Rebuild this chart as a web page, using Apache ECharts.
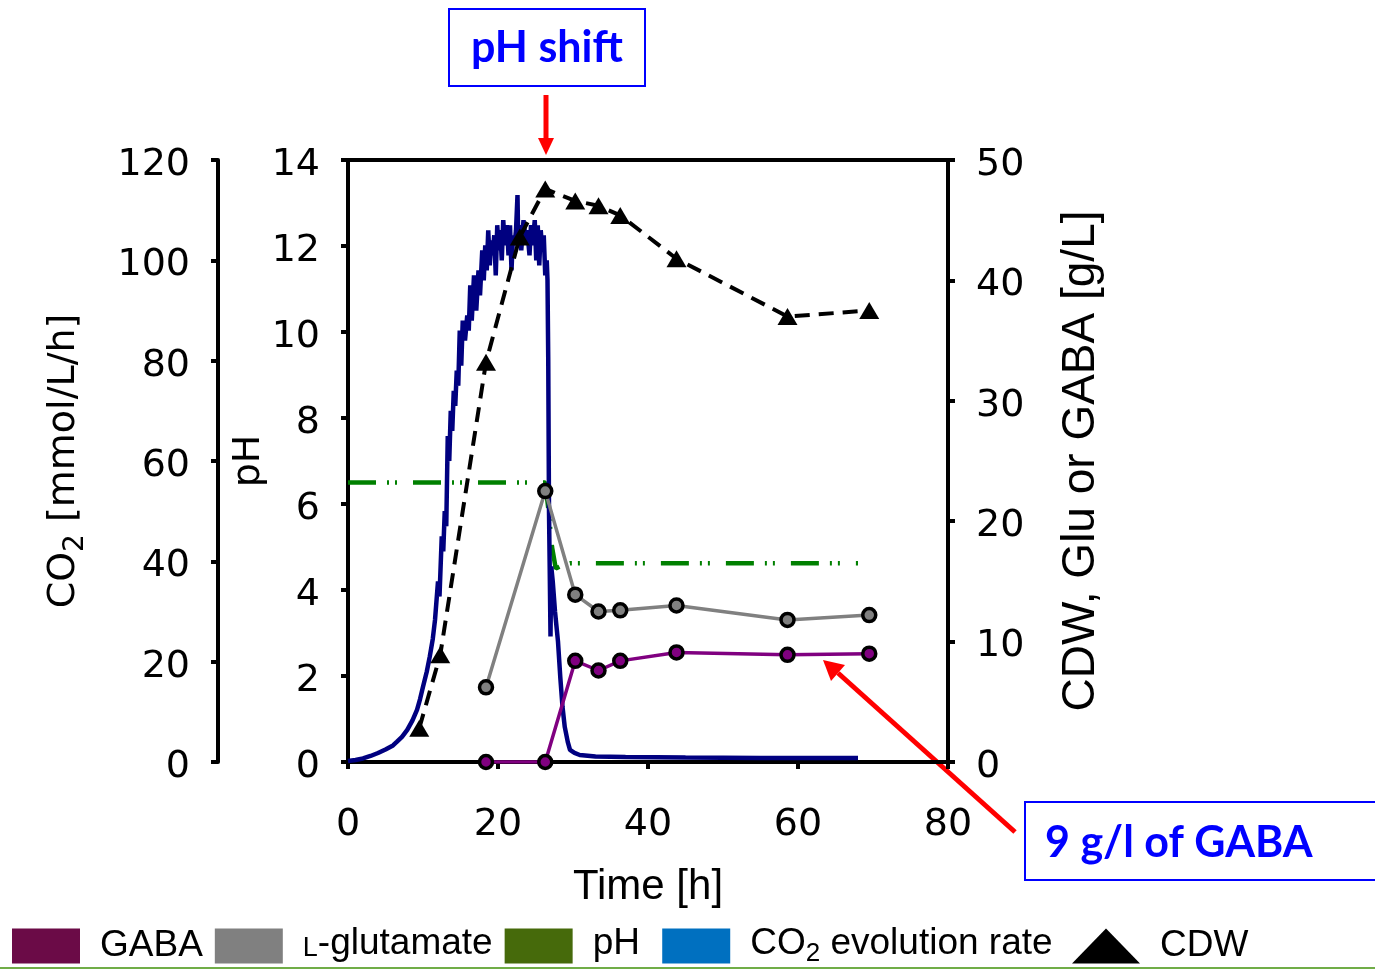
<!DOCTYPE html>
<html>
<head>
<meta charset="utf-8">
<script src="https://cdn.jsdelivr.net/npm/echarts/dist/echarts.min.js"></script>
<style>
  html, body { margin: 0; padding: 0; background: #fff; }
  #main { width: 1375px; height: 971px; }
</style>
</head>
<body>
<div id="main"></div>
<script>
// sampling times [h] and measured values
var sampleTime = [18.4, 26.3, 30.3, 33.4, 36.3, 43.8, 58.6, 69.5];
var gabaValues = [0, 0, 8.4, 7.6, 8.4, 9.1, 8.9, 9.0];
var gluValues = [6.2, 22.5, 13.9, 12.5, 12.6, 13.0, 11.8, 12.2];

var cdwTime = [9.5, 12.3, 18.4, 22.9, 26.3, 30.3, 33.4, 36.3, 43.8, 58.6, 69.5];
var cdwValues = [2.8, 8.9, 33.2, 43.6, 47.6, 46.6, 46.2, 45.4, 41.8, 37.0, 37.5];

// online pH
var phTime = [0, 26.3, 26.7, 27.2, 27.7, 28.3, 29.6, 68];
var phValues = [6.5, 6.5, 5.9, 5.0, 4.5, 4.55, 4.62, 4.62];

// CO2 evolution rate
var co2Time = [0, 1, 2, 3, 4, 5, 6, 6.5, 7.2, 7.9, 8.6, 9.2, 9.6, 10, 10.5, 10.9, 11.3, 11.6, 12, 12.2,
  12.5, 12.7, 12.9, 13.1, 13.2, 13.3, 13.5, 13.7, 13.9, 14.1, 14.3, 14.5, 14.7, 14.9, 15.1, 15.3, 15.6, 15.9, 16.1, 16.3,
  16.5, 16.8, 17.1, 17.4, 17.6, 17.9, 18.1, 18.3, 18.5, 18.7, 18.9, 19.1, 19.3, 19.5, 19.7, 19.9, 20.1, 20.3, 20.5, 20.7,
  20.9, 21.2, 21.4, 21.6, 21.8, 22, 22.2, 22.4, 22.6, 22.7, 22.9, 23.1, 23.4, 23.7, 23.9, 24.2, 24.4, 24.6, 24.9, 25.1,
  25.3, 25.5, 25.7, 25.9, 26.1, 26.3, 26.5, 26.6, 26.7, 26.8, 26.9, 27.0, 27.1, 27.3, 27.6, 28, 28.3, 28.6, 28.9, 29.3,
  29.6, 30.2, 30.9, 33, 37, 45, 55, 68];
var co2Values = [0.2, 0.4, 0.7, 1.2, 1.8, 2.5, 3.3, 4, 5, 6.4, 8.3, 10.4, 12.5, 15, 18, 21, 24.5, 28.3, 36, 33,
  45, 42, 50, 47, 56, 65, 60, 70, 66, 74, 71, 78, 75, 86, 79, 88, 84, 89, 86, 95,
  88, 97, 90, 98, 93, 102, 96, 103, 98, 106, 99, 104, 101, 105, 97, 107, 102, 106, 100, 108,
  103, 107, 101, 107, 98, 105, 103, 106, 113, 103, 107, 102, 108, 104, 106, 101, 107, 103, 108, 100,
  107, 99, 106, 102, 105, 97, 100, 96, 80, 50, 38, 25, 39, 36, 30, 24, 17, 11, 7, 4,
  2.4, 1.8, 1.4, 1.1, 1, 0.9, 0.8, 0.8];

var legendNames = ['GABA', 'L-glutamate', 'pH', 'CO2 evolution rate', 'CDW'];
var legendColors = ['#6B0B47', '#808080', '#466A0B', '#0070C0', '#000000'];

function pairs(xs, ys) {
  return xs.map(function (x, i) { return [x, ys[i]]; });
}

var tickFont = { fontFamily: 'DejaVu Sans', fontSize: 38, color: '#000' };
var axisLine = { show: true, lineStyle: { color: '#000', width: 4 } };
var axisTick = { show: true, length: 7, lineStyle: { color: '#000', width: 4 } };
// y tick labels sit a little below their ticks in the original
var yLabel = {
  margin: 28,
  formatter: '{v|{value}}',
  rich: { v: { fontFamily: 'DejaVu Sans', fontSize: 38, color: '#000', padding: [10, 0, 0, 0] } }
};

var chart = echarts.init(document.getElementById('main'));

var option = {
  backgroundColor: '#fff',
  animation: false,
  grid: {
    left: 348, right: 427, top: 160, bottom: 209,
    show: true, borderColor: '#000', borderWidth: 4
  },
  legend: {
    left: 12, top: 925, padding: 0,
    itemWidth: 68, itemHeight: 35, itemGap: 12,
    textStyle: {
      fontFamily: 'Liberation Sans', fontSize: 37, color: '#000',
      padding: [0, 0, 0, 15],
      rich: {
        sc: { fontFamily: 'Liberation Sans', fontSize: 27, color: '#000', verticalAlign: 'bottom', padding: [0, 0, 5, 0] },
        n: { fontFamily: 'Liberation Sans', fontSize: 37, color: '#000', verticalAlign: 'bottom', padding: [0, 0, 5, 0] },
        sub: { fontFamily: 'Liberation Sans', fontSize: 26, color: '#000', verticalAlign: 'bottom' }
      }
    },
    formatter: function (name) {
      if (name === 'L-glutamate') return '{sc|L}{n|-glutamate}';
      if (name === 'pH') return '{n|pH\u00a0}';
      if (name === 'CO2 evolution rate') return '{n|CO}{sub|2}{n| evolution rate\u2009}';
      return name;
    },
    data: legendNames.map(function (n, i) {
      return {
        name: n,
        icon: n === 'CDW' ? 'triangle' : 'rect',
        itemStyle: { color: legendColors[i], borderWidth: 0 }
      };
    })
  },
  xAxis: {
    type: 'value', min: 0, max: 80, interval: 20,
    axisLine: axisLine, axisTick: axisTick, splitLine: { show: false },
    axisLabel: Object.assign({ margin: 44 }, tickFont),
    name: 'Time [h]', nameLocation: 'middle', nameGap: 104,
    nameTextStyle: { fontFamily: 'Liberation Sans', fontSize: 42, color: '#000' }
  },
  yAxis: [
    {
      type: 'value', position: 'left', min: 0, max: 14, interval: 2,
      axisLine: axisLine, axisTick: axisTick, splitLine: { show: false },
      axisLabel: yLabel,
      name: 'pH', nameLocation: 'middle', nameRotate: 90, nameGap: 80,
      nameTextStyle: { fontFamily: 'DejaVu Sans', fontSize: 38, color: '#000' }
    },
    {
      type: 'value', position: 'left', offset: 130, min: 0, max: 120, interval: 20,
      axisLine: axisLine, axisTick: axisTick, splitLine: { show: false },
      axisLabel: yLabel,
      name: '{n|CO}{s|2}{n| [mmol/L/h]}', nameLocation: 'middle', nameRotate: 90, nameGap: 128,
      nameTextStyle: {
        fontFamily: 'DejaVu Sans', fontSize: 38, color: '#000',
        rich: {
          n: { fontFamily: 'DejaVu Sans', fontSize: 38, color: '#000', verticalAlign: 'bottom', padding: [0, 0, 7, 0] },
          s: { fontFamily: 'DejaVu Sans', fontSize: 28, color: '#000', verticalAlign: 'bottom' }
        }
      }
    },
    {
      type: 'value', position: 'right', min: 0, max: 50, interval: 10,
      axisLine: axisLine, axisTick: axisTick, splitLine: { show: false },
      axisLabel: yLabel,
      name: 'CDW, Glu or GABA [g/L]', nameLocation: 'middle', nameRotate: 90, nameGap: 110,
      nameTextStyle: { fontFamily: 'Liberation Sans', fontSize: 46, color: '#000' }
    }
  ],
  series: [
    {
      name: 'pH', type: 'line', yAxisIndex: 0, showSymbol: false, symbol: 'none',
      lineStyle: { color: '#008000', width: 4.5, type: [28, 11, 2, 6, 2, 16] },
      itemStyle: { color: '#466A0B' },
      data: pairs(phTime, phValues), z: 2
    },
    {
      name: 'CO2 evolution rate', type: 'line', yAxisIndex: 1, showSymbol: false, symbol: 'none',
      lineStyle: { color: '#000080', width: 4.5 },
      itemStyle: { color: '#0070C0' },
      data: pairs(co2Time, co2Values), z: 3
    },
    {
      name: 'L-glutamate', type: 'line', yAxisIndex: 2,
      symbol: 'circle', symbolSize: 13,
      lineStyle: { color: '#808080', width: 3.5 },
      itemStyle: { color: '#808080', borderColor: '#000', borderWidth: 3.5 },
      data: pairs(sampleTime, gluValues), z: 4
    },
    {
      name: 'GABA', type: 'line', yAxisIndex: 2,
      symbol: 'circle', symbolSize: 13,
      lineStyle: { color: '#800080', width: 3.5 },
      itemStyle: { color: '#800080', borderColor: '#000', borderWidth: 3.5 },
      data: pairs(sampleTime, gabaValues), z: 4
    },
    {
      name: 'CDW', type: 'line', yAxisIndex: 2,
      symbol: 'triangle', symbolSize: [20, 17],
      lineStyle: { color: '#000', width: 4, type: [15, 9] },
      itemStyle: { color: '#000' },
      data: pairs(cdwTime, cdwValues), z: 5
    }
  ],
  graphic: [
    // pH shift note
    { type: 'rect', shape: { x: 449, y: 9, width: 196, height: 77 },
      style: { fill: '#fff', stroke: '#0000FF', lineWidth: 2 } },
    { type: 'text', x: 547, y: 48,
      style: { text: 'pH shift', fill: '#0000FF', font: 'bold 43px Lato', align: 'center', verticalAlign: 'middle' } },
    { type: 'line', shape: { x1: 546, y1: 95, x2: 546, y2: 140 },
      style: { stroke: '#FF0000', lineWidth: 5 } },
    { type: 'polygon', shape: { points: [[538, 138], [554, 138], [546, 155]] },
      style: { fill: '#FF0000' } },
    // GABA note
    { type: 'rect', shape: { x: 1025, y: 802, width: 360, height: 78 },
      style: { fill: '#fff', stroke: '#0000FF', lineWidth: 2 } },
    { type: 'text', x: 1045, y: 843,
      style: { text: '9 g/l of GABA', fill: '#0000FF', font: 'bold 43px Lato', align: 'left', verticalAlign: 'middle' } },
    { type: 'line', shape: { x1: 1015, y1: 832, x2: 838, y2: 673 },
      style: { stroke: '#FF0000', lineWidth: 5 } },
    { type: 'polygon', shape: { points: [[845, 665], [831, 681], [823, 660]] },
      style: { fill: '#FF0000' } },
    // slide rule at the bottom
    { type: 'line', shape: { x1: 0, y1: 968, x2: 1375, y2: 968 },
      style: { stroke: '#70AD47', lineWidth: 2 } }
  ]
};

chart.setOption(option);
window.onresize = chart.resize;
</script>
</body>
</html>
